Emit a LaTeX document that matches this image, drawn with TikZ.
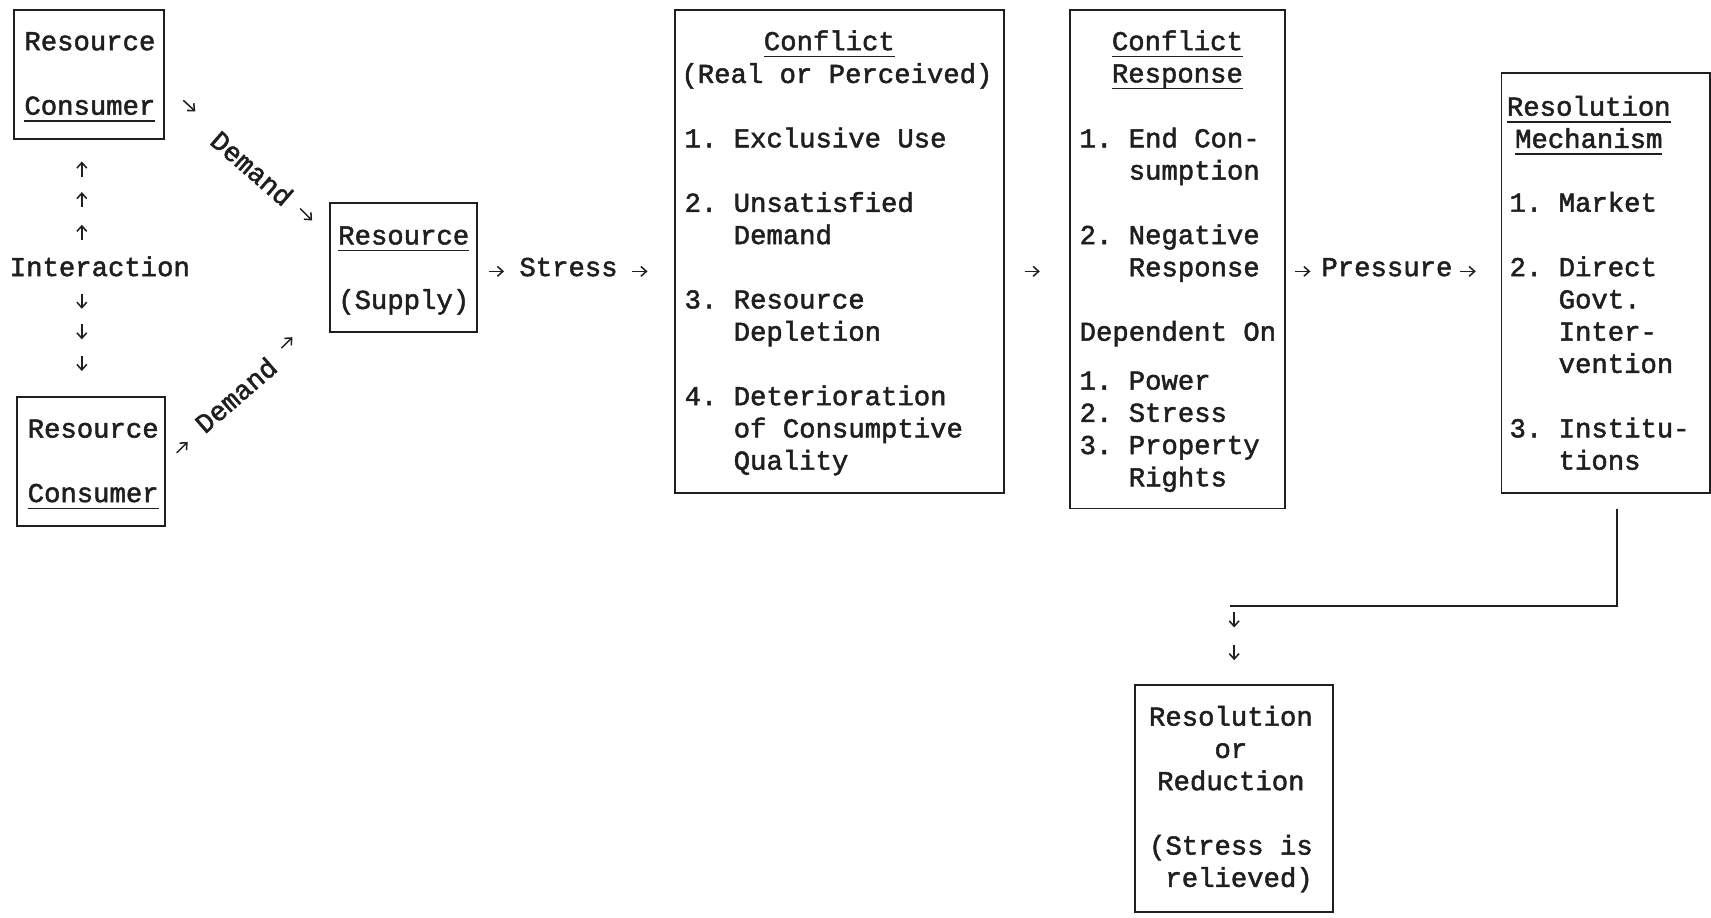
\documentclass[tikz,border=0pt]{standalone}
\usepackage{fontspec}
\newfontfamily\tw[FakeBold=1.8]{Liberation Mono}
\usetikzlibrary{arrows.meta,fit}
\definecolor{ink}{gray}{0.12}
\newcommand\ul[1]{\setbox0\hbox{#1}\rlap{\rule[-3.2pt]{\wd0}{0.65pt}}\box0}
\newcommand\rows[2]{\begin{tabular}[t]{@{}#1@{}}#2\end{tabular}}
\begin{document}
\begin{tikzpicture}[x=0.5pt,y=-0.5pt,
  txt/.style={font=\tw\fontsize{12.5}{14.77}\selectfont, text=ink, inner sep=0pt},
  box/.style={draw=ink, line width=0.9pt, inner sep=0pt},
  tarr/.style={draw=ink, line width=0.7pt, -{Straight Barb[length=2.5pt,width=4.5pt]}},
  conn/.style={draw=ink, line width=0.9pt}]
\fill[white] (0,0) rectangle (1568,841);
\useasboundingbox (0,0) rectangle (1568,841);

% ---------- boxes ----------
\node[box, fit={(13,9) (150,127)}] (rc1) {};
\node[box, fit={(16,364) (151,482)}] (rc2) {};
\node[box, fit={(302,186) (437,304)}] (sup) {};
\node[box, fit={(619,9) (920,452)}] (conf) {};
\node[box, fit={(981,9) (1178,466)}] (resp) {};
\node[box, fit={(1376,67) (1567,452)}] (mech) {};
\node[box, fit={(1040,628) (1222,836)}] (red) {};

% ---------- texts ----------
\node[txt, anchor=base west] (rc1t) at (22,46) {\rows{l}{Resource\\ \\ \ul{Consumer}}};
\node[txt, anchor=base west] (rc2t) at (25,401) {\rows{l}{Resource\\ \\ \ul{Consumer}}};
\node[txt, anchor=base] (supt) at (370,224) {\rows{c}{\ul{Resource}\\ \\ (Supply)}};
\node[txt, anchor=base] (inter) at (91.5,253) {Interaction};
\node[txt, anchor=base] (stress) at (521,253) {Stress};
\node[txt, anchor=base] (press) at (1271,253) {Pressure};
\node[txt, rotate=-41] (dem1) at (231,154) {Demand};
\node[txt, rotate=41] (dem2) at (216,362) {Demand};

\node[txt, anchor=base] (confh1) at (760,46) {\ul{Conflict}};
\node[txt, anchor=base] (confh2) at (767,76) {(Real or Perceived)};
\node[txt, anchor=base west] (confl) at (627,135) {\rows{l@{\hspace{0.6em}}l}{
 1. & Exclusive Use\\ & \\
 2. & Unsatisfied\\ & Demand\\ & \\
 3. & Resource\\ & Depletion\\ & \\
 4. & Deterioration\\ & of Consumptive\\ & Quality}};

\node[txt, anchor=base] (resph) at (1079,46) {\rows{c}{\ul{Conflict}\\ \ul{Response}}};
\node[txt, anchor=base west] (respl) at (989,135) {\rows{l@{\hspace{0.6em}}l}{
 1. & End Con-\\ & sumption\\ & \\
 2. & Negative\\ & Response\\ & \\
 \multicolumn{2}{@{}l@{}}{Dependent On}}};
\node[txt, anchor=base west] (respd) at (989,357) {\rows{l@{\hspace{0.6em}}l}{
 1. & Power\\ 2. & Stress\\ 3. & Property\\ & Rights}};

\node[txt, anchor=base] (mechh) at (1456,106) {\rows{c}{\ul{Resolution}\\ \ul{Mechanism}}};
\node[txt, anchor=base west] (mechl) at (1383,194) {\rows{l@{\hspace{0.6em}}l}{
 1. & Market\\ & \\
 2. & Direct\\ & Govt.\\ & Inter-\\ & vention\\ & \\
 3. & Institu-\\ & tions}};

\node[txt, anchor=base] (redt) at (1128,665) {\rows{c}{Resolution\\ or\\ Reduction\\ \\ (Stress is\\ \hphantom{(}relieved)}};

% ---------- small arrows ----------
\foreach \yy in {155,183,213} \draw[tarr] (75,\yy+7) -- (75,\yy-7);
\foreach \yy in {276,304,333} \draw[tarr] (75,\yy-7) -- (75,\yy+7);
\draw[tarr] (168,92) -- (179,102);
\draw[tarr] (275,191) -- (286,202);
\draw[tarr] (162,415) -- (172,405);
\draw[tarr] (258,319) -- (268,309);
\draw[tarr] ([xshift=5pt]sup.east |- inter.mid) -- ++(14,0);
\draw[tarr] ([xshift=6.5pt]stress.east |- inter.mid) -- ++(14,0);
\draw[tarr] ([xshift=9pt]conf.east |- inter.mid) -- ++(14,0);
\draw[tarr] ([xshift=4pt]resp.east |- inter.mid) -- ++(14,0);
\draw[tarr] ([xshift=3.5pt]press.east |- inter.mid) -- ++(14,0);

% ---------- connector to resolution ----------
\coordinate (c1) at (1482,466);
\coordinate (c2) at (1482,555);
\coordinate (c3) at (1127,555);
\draw[conn] (c1) -- (c2) -- (c3);
\draw[tarr] (1131,561) -- (1131,575);
\draw[tarr] (1131,591) -- (1131,605);
\end{tikzpicture}
\end{document}
